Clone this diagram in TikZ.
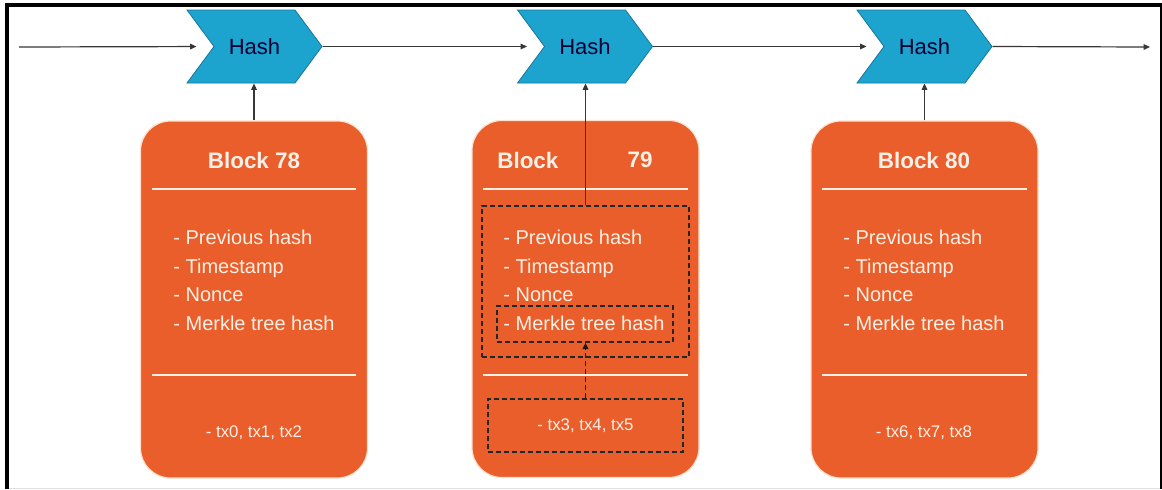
\documentclass[tikz,border=0pt]{standalone}
\usepackage{fontspec}
\setmainfont{Liberation Sans}
\usetikzlibrary{shapes.symbols,arrows.meta}
\definecolor{blockorange}{RGB}{233,94,43}
\definecolor{hashblue}{RGB}{28,164,206}
\definecolor{hashedge}{RGB}{22,118,158}
\definecolor{linegray}{RGB}{55,55,55}
\definecolor{paletext}{RGB}{253,240,230}
\definecolor{haloline}{RGB}{252,226,206}
\begin{document}
\begin{tikzpicture}[x=0.5pt,y=-0.5pt,
  hash/.style={signal, signal from=west, signal to=east, signal pointer angle=107,
    fill=hashblue, draw=hashedge, line width=0.4pt,
    minimum width=67.5pt, minimum height=36.5pt, inner sep=0pt,
    font=\fontsize{11}{13}\selectfont, text=black!80!blue},
  block/.style={rectangle, rounded corners=15pt, fill=blockorange, draw=haloline,
    line width=0.6pt, minimum width=113.5pt, minimum height=178.5pt, inner sep=0pt},
  title/.style={font=\fontsize{11.2}{13}\selectfont\bfseries, text=paletext, inner sep=0pt},
  items/.style={font=\fontsize{10}{14.25}\selectfont, text=paletext, align=left,
    anchor=west, inner sep=0pt},
  txs/.style={font=\fontsize{8.4}{10}\selectfont, text=paletext, inner sep=0pt},
  rule/.style={paletext, line width=1pt},
  arr/.style={linegray, line width=0.6pt, -{Triangle[length=3.2pt,width=2.8pt]}},
  chain/.style={arr, shorten >=8.5pt},
  dbox/.style={rectangle, draw=black!85, dashed, dash pattern=on 2.5pt off 1.5pt,
    line width=0.7pt, inner sep=0pt}
]
\useasboundingbox (0,0) rectangle (1162,489);
\fill[white] (0,0) rectangle (1162,489);

% frame
\draw[black, line width=2pt] (7,489) -- (7,5) -- (1162,5);
\draw[black, line width=1pt] (1161,5) -- (1161,489);
\draw[black!12, line width=0.5pt] (9,488) -- (1160,488);

% hash chevrons
\node[hash] (h1) at (254.5,46.5) {Hash};
\node[hash] (h2) at (585,46.5) {Hash};
\node[hash] (h3) at (924.5,46.5) {Hash};

% chain links
\coordinate (chainin) at (19,47);
\coordinate (chainout) at (1150,47);
\draw[chain] (chainin) -- (h1.west);
\draw[chain] (h1.east) -- (h2.west);
\draw[chain] (h2.east) -- (h3.west);
\draw[arr] (h3.east) -- (chainout);

% blocks
\node[block] (b78) at (254,299.5) {};
\node[block] (b79) at (585.5,299) {};
\node[block] (b80) at (924.5,299.5) {};

\foreach \b in {b78,b79,b80}{
  \draw[rule] ([xshift=6pt]\b.west |- 0,189) -- ([xshift=-6pt]\b.east |- 0,189);
  \draw[rule] ([xshift=6pt]\b.west |- 0,375) -- ([xshift=-6pt]\b.east |- 0,375);
}

% block 78
\node[title] (t78) at (254,160) {Block 78};
\node[items] (i78) at (173,280.5) {- Previous hash\\- Timestamp\\- Nonce\\- Merkle tree hash};
\node[txs] (x78) at (254,433) {- tx0, tx1, tx2};

% block 79
\node[title, anchor=west] (t79a) at (497,160) {Block};
\node[title] (t79b) at (640,160) {79};
\node[items] (i79) at (503,280.5) {- Previous hash\\- Timestamp\\- Nonce\\- Merkle tree hash};
\node[dbox, minimum width=103.5pt, minimum height=75.5pt] (hdr79) at (585.5,281.5) {};
\node[dbox, minimum width=88pt, minimum height=18pt] (mk79) at (585,324) {};
\node[dbox, minimum width=97.5pt, minimum height=26.5pt, txs] (x79) at (585.5,425.5) {- tx3, tx4, tx5};

% block 80
\node[title] (t80) at (924,160) {Block 80};
\node[items] (i80) at (843,280.5) {- Previous hash\\- Timestamp\\- Nonce\\- Merkle tree hash};
\node[txs] (x80) at (924,433) {- tx6, tx7, tx8};

% hashing links
\draw[arr] (b78.north) -- (b78.north |- h1.south);
\draw[arr] (hdr79.north) -- (hdr79.north |- h2.south);
\draw[arr] (b80.north) -- (b80.north |- h3.south);
\draw[arr, black!90, line width=0.8pt, dashed, dash pattern=on 2.5pt off 1.5pt] (x79.north) -- (x79.north |- mk79.south);
\end{tikzpicture}
\end{document}
